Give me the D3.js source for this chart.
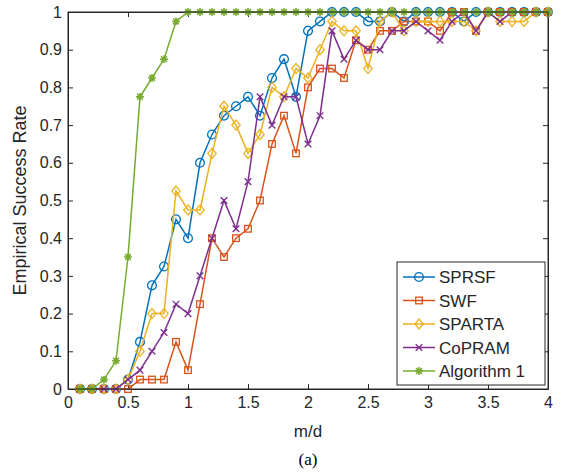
<!DOCTYPE html>
<html>
<head>
<meta charset="utf-8">
<script src="https://d3js.org/d3.v7.min.js"></script>
<style>
    body { margin: 0; background: #fff; }
    text { font-family: "Liberation Sans", Arial, sans-serif; fill: #262626; }
    .caption { font-family: "Liberation Serif", "Times New Roman", serif; fill: #000; }
</style>
</head>
<body>
<div id="chart"></div>
<script>
// m/d values, 0.1 .. 4.0
const mValues = [0.1, 0.2, 0.3, 0.4, 0.5, 0.6, 0.7, 0.8, 0.9, 1.0,
    1.1, 1.2, 1.3, 1.4, 1.5, 1.6, 1.7, 1.8, 1.9, 2.0,
    2.1, 2.2, 2.3, 2.4, 2.5, 2.6, 2.7, 2.8, 2.9, 3.0,
    3.1, 3.2, 3.3, 3.4, 3.5, 3.6, 3.7, 3.8, 3.9, 4.0];

const sprsf = [0, 0, 0, 0, 0.025, 0.125, 0.275, 0.325, 0.45, 0.4,
    0.6, 0.675, 0.725, 0.75, 0.775, 0.725, 0.825, 0.875, 0.775, 0.95,
    0.975, 1, 1, 1, 0.975, 0.975, 1, 0.975, 1, 1,
    1, 1, 0.975, 1, 1, 1, 1, 1, 1, 1];

const swf = [0, 0, 0, 0, 0, 0.025, 0.025, 0.025, 0.125, 0.05,
    0.225, 0.4, 0.35, 0.4, 0.425, 0.5, 0.65, 0.725, 0.625, 0.8,
    0.85, 0.85, 0.825, 0.925, 0.9, 0.95, 0.95, 0.975, 0.975, 0.975,
    0.95, 1, 1, 0.95, 1, 1, 1, 1, 1, 1];

const sparta = [0, 0, 0, 0, 0.025, 0.1, 0.2, 0.2, 0.525, 0.475,
    0.475, 0.625, 0.75, 0.7, 0.625, 0.675, 0.8, 0.775, 0.85, 0.825,
    0.9, 0.975, 0.95, 0.95, 0.85, 0.975, 1, 0.95, 0.975, 0.975,
    0.975, 0.975, 0.975, 0.95, 1, 0.975, 0.975, 0.975, 1, 1];

const copram = [0, 0, 0, 0, 0.025, 0.05, 0.1, 0.15, 0.225, 0.2,
    0.3, 0.4, 0.5, 0.425, 0.55, 0.775, 0.7, 0.775, 0.775, 0.65,
    0.725, 0.95, 0.875, 0.925, 0.9, 0.9, 0.95, 0.95, 0.975, 0.95,
    0.925, 0.975, 1, 0.95, 1, 0.975, 1, 1, 1, 1];

const algorithm1 = [0, 0, 0.025, 0.075, 0.35, 0.775, 0.825, 0.875, 0.975, 1,
    1, 1, 1, 1, 1, 1, 1, 1, 1, 1,
    1, 1, 1, 1, 1, 1, 1, 1, 1, 1,
    1, 1, 1, 1, 1, 1, 1, 1, 1, 1];

const seriesNames = ["SPRSF", "SWF", "SPARTA", "CoPRAM", "Algorithm 1"];
const seriesValues = [sprsf, swf, sparta, copram, algorithm1];
const seriesColors = ["#0072BD", "#D95319", "#EDB120", "#7E2F8E", "#77AC30"];
const seriesMarkers = ["circle", "square", "diamond", "cross", "star"];

const xTicks = [0, 0.5, 1, 1.5, 2, 2.5, 3, 3.5, 4];
const yTicks = [0, 0.1, 0.2, 0.3, 0.4, 0.5, 0.6, 0.7, 0.8, 0.9, 1];

const width = 562, height = 474;
const margin = {left: 68, right: 14, top: 12, bottom: 85};
const plotW = width - margin.left - margin.right;
const plotH = height - margin.top - margin.bottom;

const svg = d3.select("#chart").append("svg")
    .attr("width", width)
    .attr("height", height);

const x = d3.scaleLinear().domain([0, 4]).range([margin.left, margin.left + plotW]);
const y = d3.scaleLinear().domain([0, 1]).range([margin.top + plotH, margin.top]);

const axisColor = "#262626";

// axes with inward ticks (box on)
const xAxis = svg.append("g")
    .attr("transform", `translate(0,${y(0)})`)
    .call(d3.axisBottom(x).tickValues(xTicks).tickSizeInner(-5).tickSizeOuter(0).tickPadding(8)
        .tickFormat(d => d));
const xAxisTop = svg.append("g")
    .attr("transform", `translate(0,${y(1)})`)
    .call(d3.axisTop(x).tickValues(xTicks).tickSizeInner(-5).tickSizeOuter(0).tickFormat(""));
const yAxis = svg.append("g")
    .attr("transform", `translate(${x(0)},0)`)
    .call(d3.axisLeft(y).tickValues(yTicks).tickSizeInner(-5).tickSizeOuter(0).tickPadding(6)
        .tickFormat(d => d));
const yAxisRight = svg.append("g")
    .attr("transform", `translate(${x(4)},0)`)
    .call(d3.axisRight(y).tickValues(yTicks).tickSizeInner(-5).tickSizeOuter(0).tickFormat(""));

[xAxis, xAxisTop, yAxis, yAxisRight].forEach(g => {
    g.select(".domain").attr("stroke", axisColor).attr("stroke-width", 1);
    g.selectAll(".tick line").attr("stroke", axisColor);
    g.selectAll(".tick text").attr("fill", axisColor).style("font-size", "16px")
        .style("font-family", "Liberation Sans, Arial, sans-serif");
});

// markers
function drawMarker(sel, type, color) {
    if (type === "circle") {
        sel.append("circle").attr("r", 4.4).attr("fill", "none").attr("stroke", color).attr("stroke-width", 1.3);
    } else if (type === "square") {
        sel.append("rect").attr("x", -3.3).attr("y", -3.3).attr("width", 6.6).attr("height", 6.6)
            .attr("fill", "none").attr("stroke", color).attr("stroke-width", 1.3);
    } else if (type === "diamond") {
        sel.append("path").attr("d", "M0,-5L4.2,0L0,5L-4.2,0Z")
            .attr("fill", "none").attr("stroke", color).attr("stroke-width", 1.3);
    } else if (type === "cross") {
        sel.append("path").attr("d", "M-3.3,-3.3L3.3,3.3M-3.3,3.3L3.3,-3.3")
            .attr("stroke", color).attr("stroke-width", 1.4);
    } else if (type === "star") {
        sel.append("path").attr("d", "M-3.9,0L3.9,0M0,-3.9L0,3.9M-2.9,-2.9L2.9,2.9M-2.9,2.9L2.9,-2.9")
            .attr("stroke", color).attr("stroke-width", 1.6);
    }
}

const line = d3.line().x(d => x(d[0])).y(d => y(d[1]));

seriesValues.forEach((vals, i) => {
    const pts = mValues.map((m, j) => [m, vals[j]]);
    const g = svg.append("g");
    g.append("path")
        .datum(pts)
        .attr("d", line)
        .attr("fill", "none")
        .attr("stroke", seriesColors[i])
        .attr("stroke-width", 1.5);
    g.selectAll("g.mk")
        .data(pts)
        .enter().append("g")
        .attr("class", "mk")
        .attr("transform", d => `translate(${x(d[0])},${y(d[1])})`)
        .each(function () { drawMarker(d3.select(this), seriesMarkers[i], seriesColors[i]); });
});

// redraw box edges on top
svg.append("rect")
    .attr("x", x(0)).attr("y", y(1))
    .attr("width", x(4) - x(0)).attr("height", y(0) - y(1))
    .attr("fill", "none").attr("stroke", axisColor).attr("stroke-width", 1);

// legend
const legX = 397, legY = 262, legW = 148, legH = 123, rowH = 23.5;
const legend = svg.append("g");
legend.append("rect")
    .attr("x", legX).attr("y", legY).attr("width", legW).attr("height", legH)
    .attr("fill", "#fff").attr("stroke", axisColor).attr("stroke-width", 1);
seriesNames.forEach((name, i) => {
    const cy = legY + 15 + i * rowH;
    legend.append("line")
        .attr("x1", legX + 6).attr("x2", legX + 38)
        .attr("y1", cy).attr("y2", cy)
        .attr("stroke", seriesColors[i]).attr("stroke-width", 1.5);
    const mk = legend.append("g").attr("transform", `translate(${legX + 22},${cy})`);
    drawMarker(mk, seriesMarkers[i], seriesColors[i]);
    legend.append("text")
        .attr("x", legX + 42).attr("y", cy + 6)
        .style("font-size", "17px")
        .text(name);
});

// axis labels
svg.append("text")
    .attr("x", (x(0) + x(4)) / 2).attr("y", 437)
    .attr("text-anchor", "middle")
    .style("font-size", "17px")
    .text("m/d");

svg.append("text")
    .attr("transform", `translate(26,${(y(0) + y(1)) / 2}) rotate(-90)`)
    .attr("text-anchor", "middle")
    .style("font-size", "18px")
    .text("Empirical Success Rate");

svg.append("text")
    .attr("class", "caption")
    .attr("x", (x(0) + x(4)) / 2).attr("y", 465)
    .attr("text-anchor", "middle")
    .style("font-size", "17px")
    .text("(a)");
</script>
</body>
</html>
